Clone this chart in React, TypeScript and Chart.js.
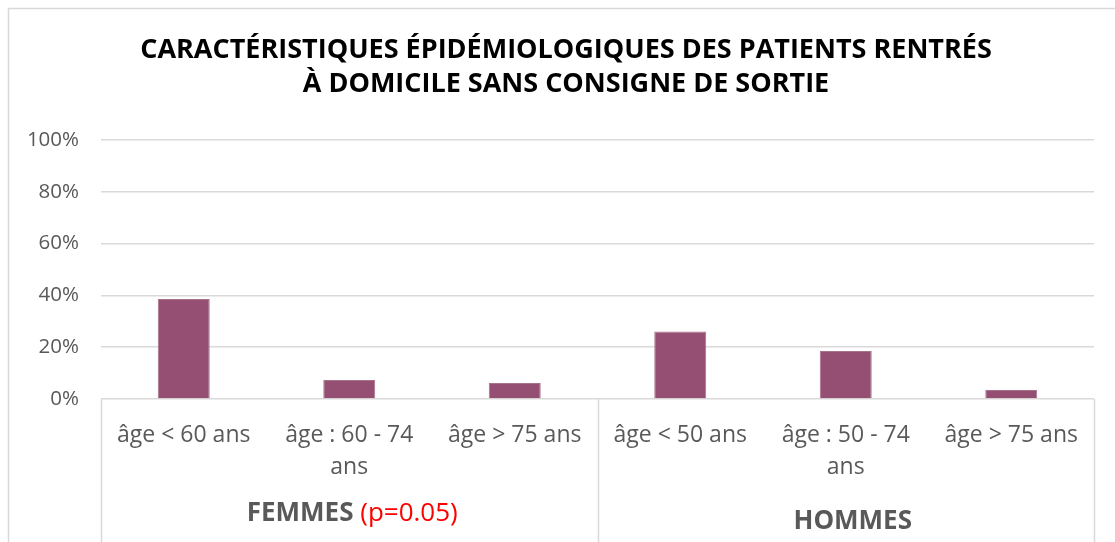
import React, { useEffect, useRef } from "react";
import { Chart, registerables } from "chart.js";

Chart.register(...registerables);

const titleLines = [
  "CARACTÉRISTIQUES ÉPIDÉMIOLOGIQUES DES PATIENTS RENTRÉS",
  "À DOMICILE SANS CONSIGNE DE SORTIE",
];
const categories: string[][] = [
  ["âge < 60 ans"],
  ["âge : 60 - 74", "ans"],
  ["âge > 75 ans"],
  ["âge < 50 ans"],
  ["âge : 50 - 74", "ans"],
  ["âge > 75 ans"],
];
const values = [38.6, 7.3, 6.2, 26.1, 18.5, 3.5];
const groupLabels = ["FEMMES", "HOMMES"];
const groupNotes = [" (p=0.05)", ""];
const groupSizes = [3, 3];
const yTickValues = [0, 20, 40, 60, 80, 100];

const FONT = "'Open Sans', 'Noto Sans', sans-serif";
const GRID = "#D9D9D9";
const TEXT = "#595959";

const decorPlugin = {
  id: "decor",
  afterDraw(chart: any) {
    const { ctx, chartArea, scales } = chart;
    const x = scales.x;
    const H = chart.height;
    ctx.save();
    // outer frame
    ctx.strokeStyle = GRID;
    ctx.lineWidth = 1.5;
    ctx.strokeRect(8.5, 8.5, chart.width + 20, H + 20);

    // title
    ctx.fillStyle = "#000000";
    ctx.font = `bold 27px ${FONT}`;
    ctx.textAlign = "center";
    ctx.textBaseline = "middle";
    const titleY = [50, 84];
    titleLines.forEach((t, i) => ctx.fillText(t, 566, titleY[i]));

    // group separators + labels
    const catW = x.getPixelForValue(1) - x.getPixelForValue(0);
    let start = 0;
    const bounds: number[] = [chartArea.left];
    groupSizes.forEach((n) => {
      start += n;
      bounds.push(x.getPixelForValue(start - 1) + catW / 2);
    });
    ctx.strokeStyle = GRID;
    ctx.lineWidth = 1.5;
    bounds.forEach((b) => {
      const bx = Math.round(b) + 0.5;
      ctx.beginPath();
      ctx.moveTo(bx, chartArea.bottom);
      ctx.lineTo(bx, H);
      ctx.stroke();
    });
    const labelY = [514, 522];
    const labelDx = [3, 7];
    ctx.textAlign = "left";
    groupLabels.forEach((g, i) => {
      const cx = (bounds[i] + bounds[i + 1]) / 2 + labelDx[i];
      ctx.font = `bold 26px ${FONT}`;
      const w1 = ctx.measureText(g).width;
      ctx.font = `26px ${FONT}`;
      const w2 = groupNotes[i] ? ctx.measureText(groupNotes[i]).width : 0;
      const x0 = cx - (w1 + w2) / 2;
      ctx.font = `bold 26px ${FONT}`;
      ctx.fillStyle = TEXT;
      ctx.fillText(g, x0, labelY[i]);
      if (groupNotes[i]) {
        ctx.font = `26px ${FONT}`;
        ctx.fillStyle = "#FF0000";
        ctx.fillText(groupNotes[i], x0 + w1, labelY[i]);
      }
    });
    ctx.restore();
  },
};

export default function App() {
  const ref = useRef<HTMLCanvasElement>(null);
  useEffect(() => {
    document.body.style.margin = "0";
    const chart = new Chart(ref.current as HTMLCanvasElement, {
      type: "bar",
      data: {
        labels: categories,
        datasets: [
          {
            data: values,
            backgroundColor: "#954F72",
            borderColor: "#A8718C",
            borderWidth: 1,
            categoryPercentage: 0.314,
            barPercentage: 1,
          },
        ],
      },
      options: {
        animation: false,
        responsive: false,
        devicePixelRatio: 1,
        layout: { padding: { top: 140, right: 21, bottom: 0, left: 0 } },
        plugins: {
          legend: { display: false },
          title: { display: false },
          tooltip: { enabled: false },
        },
        scales: {
          x: {
            grid: { display: false },
            border: { display: false },
            ticks: {
              autoSkip: false,
              maxRotation: 0,
              minRotation: 0,
              padding: 12,
              color: TEXT,
              font: { family: FONT, size: 23, lineHeight: 1.39 },
            },
            afterFit: (s: any) => {
              s.height = 143;
            },
          },
          y: {
            min: 0,
            max: 100,
            afterBuildTicks: (s: any) => {
              s.ticks = yTickValues.map((v) => ({ value: v }));
            },
            grid: { color: GRID, lineWidth: 1.5, drawTicks: false },
            border: { display: false },
            ticks: {
              padding: 22,
              color: TEXT,
              font: { family: FONT, size: 20.5 },
              callback: (v: any) => v + "%",
            },
            afterFit: (s: any) => {
              s.width = 101;
            },
          },
        },
      },
      plugins: [decorPlugin],
    });
    return () => chart.destroy();
  }, []);
  return (
    <div style={{ width: 1115, height: 542 }}>
      <canvas ref={ref} width={1115} height={542} />
    </div>
  );
}
